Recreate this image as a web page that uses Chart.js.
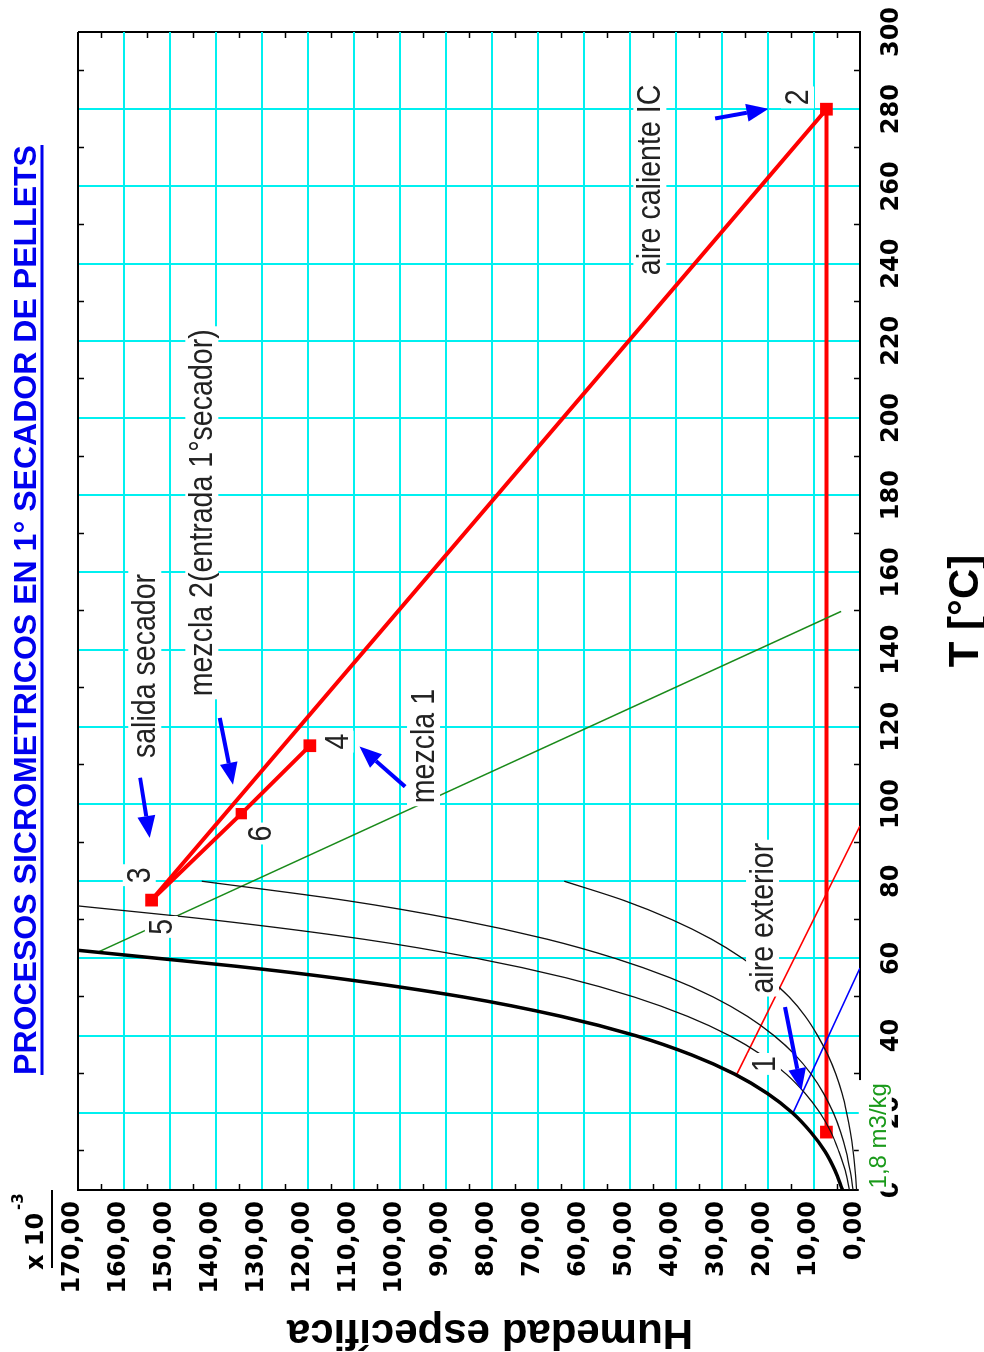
<!DOCTYPE html>
<html>
<head>
<meta charset="utf-8">
<script src="https://cdn.jsdelivr.net/npm/chart.js@4.4.1/dist/chart.umd.min.js"></script>
<style>
  html, body { margin: 0; padding: 0; background: #fff; overflow: hidden; }
  #wrap {
    position: absolute; left: 0; top: 0;
    width: 1352px; height: 984px;
    transform-origin: 0 0;
    transform: translateY(1352px) rotate(-90deg);
  }
</style>
</head>
<body>
<div id="wrap"><canvas id="chart" width="1352" height="984"></canvas></div>
<script>
// temperature T [°C] along x, specific humidity (x 10^-3) along y
const tempTicks = { min: 0, max: 300, step: 20 }
const humTicks = { min: 0, max: 170, step: 10 }

// saturation curve (thick)
const satT = [0, 5, 10, 15, 20, 25, 30, 35, 40, 45, 50, 55, 58, 60, 62.1]
const satW = [3.8, 5.4, 7.6, 10.7, 14.7, 20.1, 27.2, 36.6, 48.8, 65.0, 86.2, 114.6, 135.9, 152.5, 170]

// relative humidity curves
const rh60T = [0, 5, 10, 15, 20, 25, 30, 35, 40, 45, 50, 55, 60, 65, 70, 73.6]
const rh60W = [2.3, 3.2, 4.6, 6.3, 8.7, 11.9, 16.0, 21.4, 28.4, 37.5, 49.1, 64.0, 83.3, 108.1, 140.9, 170]
const rh40T = [0, 5, 10, 15, 20, 25, 30, 35, 40, 45, 50, 55, 60, 65, 70, 75, 80]
const rh40W = [1.5, 2.15, 3.0, 4.2, 5.8, 7.9, 10.6, 14.1, 18.7, 24.5, 31.9, 41.3, 53.2, 68.1, 87.3, 111.7, 143.1]
const rh20T = [0, 5, 10, 15, 20, 25, 30, 35, 40, 45, 50, 55, 60, 65, 70, 75, 80]
const rh20W = [0.75, 1.07, 1.5, 2.1, 2.9, 3.9, 5.25, 7.0, 9.2, 11.9, 15.4, 20.0, 25.5, 32.3, 40.8, 51.3, 64.3]

// specific volume line (green) and the two thin guide lines
const volT = [61.6, 149.9]
const volW = [165.7, 4.1]
const redGuideT = [29.7, 94.3]
const redGuideW = [26.9, 0]
const blueGuideT = [20.1, 57.5]
const blueGuideW = [14.5, 0]

// process: 1 -> 2 -> 3, and 5 -> 6 -> 4
const procT = [15.0, 280.0, 75.1]
const procW = [7.3, 7.3, 154.0]
const mixT = [75.1, 97.5, 115.1]
const mixW = [154.0, 134.5, 119.6]

// text notes: start T, baseline W
const notes = [
  { text: 'aire caliente IC', t: 237, w: 43.4 },
  { text: '2', t: 281, w: 11.3 },
  { text: 'salida secador', t: 111.9, w: 153.2 },
  { text: 'mezcla 2(entrada 1°secador)', t: 127.9, w: 140.8 },
  { text: '3', t: 79.5, w: 154.4 },
  { text: '5', t: 66.1, w: 149.6 },
  { text: '6', t: 90.3, w: 128.0 },
  { text: '4', t: 114.1, w: 111.4 },
  { text: 'mezcla 1', t: 100.2, w: 92.6 },
  { text: 'aire exterior', t: 50.9, w: 18.9 },
  { text: '1', t: 30.6, w: 18.5 },
]
const volNote = { text: '1,8 m3/kg', t: 0.4, w: -5.6 }

// blue arrows: tail (t0,w0) -> tip (t1,w1)
const arrows = [
  { t0: 106.8, w0: 156.5, t1: 91.2, w1: 154.4 },
  { t0: 122.3, w0: 139.2, t1: 105.0, w1: 136.3 },
  { t0: 104.5, w0: 98.9, t1: 114.9, w1: 108.8 },
  { t0: 277.6, w0: 31.5, t1: 280.1, w1: 19.9 },
  { t0: 47.4, w0: 16.3, t1: 25.8, w1: 12.7 },
]

const pts = (xs, ys) => xs.map((x, i) => ({ x, y: ys[i] }))

const CYAN = '#00f0f0'
const NOTE_FONT = '34px "Liberation Sans", Arial, sans-serif'
const SQUEEZE = 0.84
const TICK_FONT = { family: '"DejaVu Sans", sans-serif', weight: 'bold', size: 24 }

function drawNote(ctx, s, x, y, font, color, sx) {
  ctx.save()
  ctx.font = font
  const w = ctx.measureText(s).width * sx
  ctx.fillStyle = '#fff'
  ctx.fillRect(x - 3, y - 27, w + 6, 33)
  ctx.translate(x, y)
  ctx.scale(sx, 1)
  ctx.fillStyle = color
  ctx.textAlign = 'left'
  ctx.textBaseline = 'alphabetic'
  ctx.fillText(s, 0, 0)
  ctx.restore()
}

function drawArrow(ctx, x0, y0, x1, y1) {
  const ang = Math.atan2(y1 - y0, x1 - x0)
  const hl = 22, hw = 9
  const bx = x1 - Math.cos(ang) * hl, by = y1 - Math.sin(ang) * hl
  ctx.save()
  ctx.strokeStyle = '#0000ff'
  ctx.fillStyle = '#0000ff'
  ctx.lineWidth = 4
  ctx.beginPath()
  ctx.moveTo(x0, y0)
  ctx.lineTo(bx, by)
  ctx.stroke()
  ctx.beginPath()
  ctx.moveTo(x1, y1)
  ctx.lineTo(bx + Math.sin(ang) * hw, by - Math.cos(ang) * hw)
  ctx.lineTo(bx - Math.sin(ang) * hw, by + Math.cos(ang) * hw)
  ctx.closePath()
  ctx.fill()
  ctx.restore()
}

const decor = {
  id: 'decor',
  beforeDraw(chart) {
    const ctx = chart.ctx
    ctx.save()
    ctx.fillStyle = '#fff'
    ctx.fillRect(0, 0, chart.width, chart.height)
    ctx.restore()
  },
  afterDraw(chart) {
    const ctx = chart.ctx
    const xs = chart.scales.x, ys = chart.scales.y
    const ca = chart.chartArea

    // small inner ticks between grid lines
    ctx.save()
    ctx.strokeStyle = '#000'
    ctx.lineWidth = 1.5
    ctx.beginPath()
    for (let t = 10; t < tempTicks.max; t += 20) {
      const u = Math.round(xs.getPixelForValue(t)) + 0.5
      ctx.moveTo(u, ca.bottom); ctx.lineTo(u, ca.bottom - 6)
      ctx.moveTo(u, ca.top); ctx.lineTo(u, ca.top + 6)
    }
    for (let w = 5; w < humTicks.max; w += 10) {
      const v = Math.round(ys.getPixelForValue(w)) + 0.5
      ctx.moveTo(ca.left, v); ctx.lineTo(ca.left + 6, v)
      ctx.moveTo(ca.right, v); ctx.lineTo(ca.right - 6, v)
    }
    ctx.stroke()
    ctx.restore()

    notes.forEach(n => {
      drawNote(ctx, n.text, xs.getPixelForValue(n.t), ys.getPixelForValue(n.w), NOTE_FONT, '#222', SQUEEZE)
    })
    drawNote(ctx, volNote.text, xs.getPixelForValue(volNote.t), ys.getPixelForValue(volNote.w),
      '24px "Liberation Sans", Arial, sans-serif', '#1a9a1a', 1)

    arrows.forEach(a => {
      drawArrow(ctx, xs.getPixelForValue(a.t0), ys.getPixelForValue(a.w0),
        xs.getPixelForValue(a.t1), ys.getPixelForValue(a.w1))
    })

    // title
    ctx.save()
    const title = 'PROCESOS SICROMETRICOS EN 1° SECADOR DE PELLETS'
    ctx.font = 'bold 32px "Liberation Sans", Arial, sans-serif'
    const tw = ctx.measureText(title).width
    const tx0 = 277, tx1 = 1207
    ctx.translate(tx0, 36)
    ctx.scale((tx1 - tx0) / tw, 1)
    ctx.fillStyle = '#0000ee'
    ctx.fillText(title, 0, 0)
    ctx.restore()
    ctx.save()
    ctx.strokeStyle = '#0000ee'
    ctx.lineWidth = 3
    ctx.beginPath()
    ctx.moveTo(tx0, 42); ctx.lineTo(tx1, 42)
    ctx.stroke()
    ctx.restore()

    // axis titles
    ctx.save()
    ctx.fillStyle = '#000'
    ctx.font = 'bold 42px "Liberation Sans", Arial, sans-serif'
    ctx.textAlign = 'center'
    ctx.fillText('T [°C]', (ca.left + ca.right) / 2, 978)
    ctx.translate(32, 490)
    ctx.rotate(-Math.PI / 2)
    ctx.fillText('Humedad específica', 0, 0)
    ctx.restore()

    // x 10^-3 multiplier
    ctx.save()
    ctx.fillStyle = '#000'
    ctx.font = 'bold 24px "DejaVu Sans", sans-serif'
    ctx.fillText('x 10', 82, 43)
    ctx.font = 'bold 15px "DejaVu Sans", sans-serif'
    ctx.fillText('-3', 142, 23)
    ctx.strokeStyle = '#000'
    ctx.lineWidth = 2
    ctx.beginPath()
    ctx.moveTo(84, 52); ctx.lineTo(162, 52)
    ctx.stroke()
    ctx.restore()
  }
}

const thin = (data, color, width) => ({
  data, borderColor: color, borderWidth: width, showLine: true,
  pointRadius: 0, cubicInterpolationMode: 'monotone', fill: false
})

new Chart(document.getElementById('chart').getContext('2d'), {
  type: 'scatter',
  data: {
    datasets: [
      thin(pts(rh20T, rh20W), '#111', 1.3),
      thin(pts(rh40T, rh40W), '#111', 1.3),
      thin(pts(rh60T, rh60W), '#111', 1.3),
      thin(pts(satT, satW), '#000', 3.5),
      thin(pts(volT, volW), '#1a8a1a', 1.5),
      thin(pts(redGuideT, redGuideW), '#ff0000', 1.5),
      thin(pts(blueGuideT, blueGuideW), '#0000ff', 1.5),
      {
        data: pts(procT, procW), borderColor: '#ff0000', borderWidth: 4, showLine: true,
        pointStyle: 'rect', pointRadius: 9, pointBackgroundColor: '#ff0000', pointBorderWidth: 0
      },
      {
        data: pts(mixT, mixW), borderColor: '#ff0000', borderWidth: 4, showLine: true,
        pointStyle: 'rect', pointRadius: [0, 8, 9], pointBackgroundColor: '#ff0000', pointBorderWidth: 0
      }
    ]
  },
  options: {
    responsive: false,
    animation: false,
    devicePixelRatio: 1,
    layout: { padding: { top: 78, right: 32, left: 0, bottom: 0 } },
    plugins: { legend: { display: false }, tooltip: { enabled: false } },
    scales: {
      x: {
        type: 'linear',
        min: tempTicks.min, max: tempTicks.max,
        // fixed axis box; label overflow must not shrink the plot
        afterFit: s => { s.height = 124; s.paddingLeft = 0; s.paddingRight = 0 },
        ticks: {
          stepSize: tempTicks.step, color: '#000', padding: 17,
          maxRotation: 0, autoSkip: false,
          font: TICK_FONT
        },
        grid: {
          drawTicks: false, lineWidth: 2,
          color: c => (c.tick && (c.tick.value === tempTicks.min || c.tick.value === tempTicks.max)) ? '#000' : CYAN
        },
        border: { display: true, color: '#000', width: 2 }
      },
      y: {
        type: 'linear',
        min: humTicks.min, max: humTicks.max,
        afterFit: s => { s.width = 162; s.paddingTop = 0; s.paddingBottom = 0 },
        ticks: {
          stepSize: humTicks.step, color: '#000', padding: 11, labelOffset: -5, autoSkip: false,
          font: TICK_FONT,
          callback: v => v.toFixed(2).replace('.', ',')
        },
        grid: {
          drawTicks: false, lineWidth: 2,
          color: c => (c.tick && (c.tick.value === humTicks.min || c.tick.value === humTicks.max)) ? '#000' : CYAN
        },
        border: { display: true, color: '#000', width: 2 }
      }
    }
  },
  plugins: [decor]
})
</script>
</body>
</html>
